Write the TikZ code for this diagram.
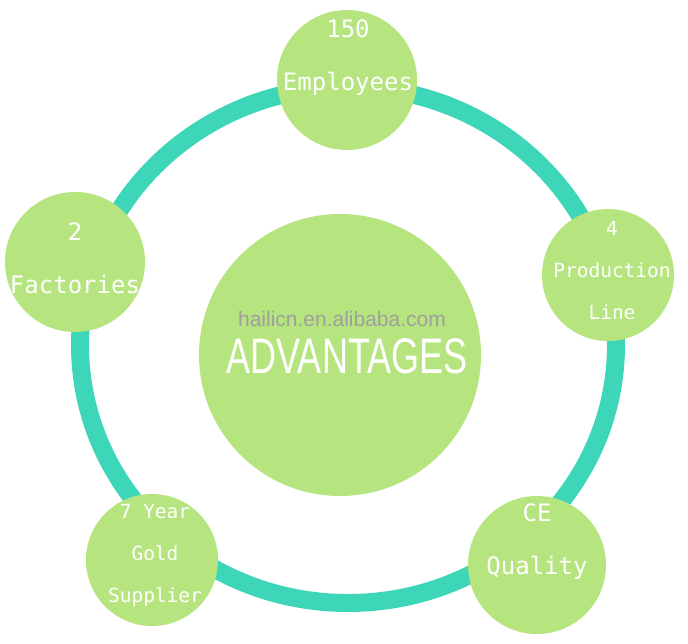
\documentclass[tikz,border=0pt]{standalone}
\usepackage{fontspec}
\setmainfont{DejaVu Sans Mono}
\newfontfamily\advfont{Liberation Sans}[FakeStretch=0.72]
\newfontfamily\wmfont{Liberation Sans}
\definecolor{ring}{HTML}{3DD6B9}
\definecolor{leaf}{HTML}{B6E47F}
\begin{document}
\begin{tikzpicture}[x=1pt,y=-1pt,
  bub/.style={circle,fill=leaf,draw=none},
  lab/.style={text=white,align=center,inner sep=0pt,font=\fontsize{24}{53}\selectfont},
  slab/.style={lab,font=\fontsize{19.5}{42}\selectfont}]
\useasboundingbox (0,0) rectangle (688,643);
\fill[white] (0,0) rectangle (688,643);
\coordinate (c) at (348,345);
\draw[ring,line width=18] (c) ellipse [x radius=268, y radius=258];
\node[bub,minimum size=140] (top) at (347,80) {};
\node[bub,minimum size=132] (right) at (608,275) {};
\node[bub,minimum size=140] (left) at (75,262) {};
\node[bub,minimum size=132] (bl) at (152,560) {};
\node[bub,minimum size=138] (br) at (537,565) {};
\node[bub,minimum size=282] (mid) at (340,355) {};
\node[lab] (t1) at (348,58) {150\\Employees};
\node[slab] (t2) at (612,271) {4\\Production\\Line};
\node[lab] (t3) at (75,258) {2\\Factories};
\node[slab] (t4) at (155,555) {7 Year\\Gold\\Supplier};
\node[lab] (t5) at (537,542) {CE\\Quality};
\node[text=gray!75,inner sep=0pt,font=\wmfont\fontsize{21}{24}\selectfont] (wm) at (342,319) {hailicn.en.alibaba.com};
\node[text=white,inner sep=0pt,font=\advfont\fontsize{50}{54}\selectfont] (adv) at (347,356) {ADVANTAGES};
\end{tikzpicture}
\end{document}
